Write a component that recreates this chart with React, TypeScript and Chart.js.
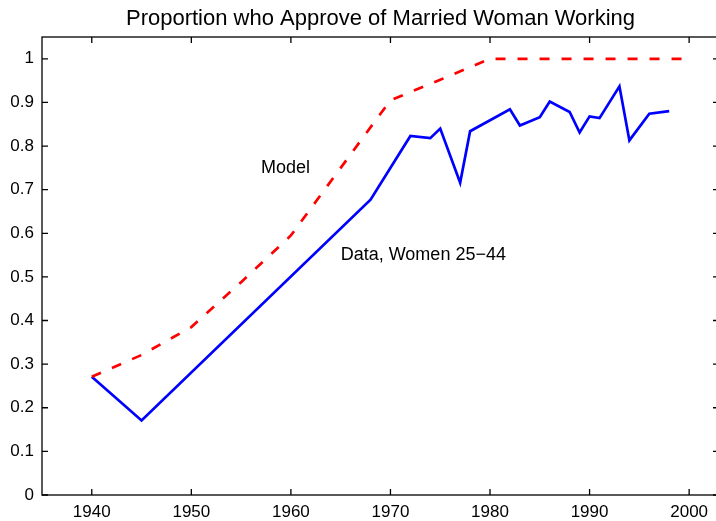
import React, { useEffect, useRef } from 'react';
import { Chart, registerables } from 'chart.js';

Chart.register(...registerables);

const TITLE = 'Proportion who Approve of Married Woman Working';
const FONT = '"Liberation Sans", Arial, Helvetica, sans-serif';

const modelYears = [1940, 1945, 1950, 1955, 1960, 1965, 1970, 1975, 1980, 1985, 1990, 1995, 2000];
const modelValues = [0.271, 0.321, 0.385, 0.488, 0.595, 0.75, 0.905, 0.952, 1, 1, 1, 1, 1];

const dataYears = [1940, 1945, 1968, 1972, 1974, 1975, 1977, 1978, 1982, 1983, 1985, 1986, 1988, 1989, 1990, 1991, 1993, 1994, 1996, 1998];
const dataValues = [0.271, 0.171, 0.677, 0.823, 0.818, 0.84, 0.716, 0.834, 0.884, 0.847, 0.866, 0.902, 0.878, 0.831, 0.868, 0.864, 0.937, 0.813, 0.874, 0.88];

const xTicks = [1940, 1950, 1960, 1970, 1980, 1990, 2000];
const yTicks = [0, 0.1, 0.2, 0.3, 0.4, 0.5, 0.6, 0.7, 0.8, 0.9, 1];

const annotationTexts = ['Model', 'Data, Women 25\u221244'];
const annotationX = [1957, 1965];
const annotationY = [0.75, 0.55];

const framePlugin = {
  id: 'frame',
  afterDraw(chart: any) {
    const { ctx, chartArea: a, scales } = chart;
    const xs = scales.x;
    const ys = scales.y;
    const tl = 6;
    ctx.save();
    ctx.strokeStyle = '#000';
    ctx.lineWidth = 1.3;
    ctx.strokeRect(a.left, a.top, a.right - a.left, a.bottom - a.top);
    ctx.beginPath();
    for (const t of xTicks) {
      const px = xs.getPixelForValue(t);
      ctx.moveTo(px, a.bottom);
      ctx.lineTo(px, a.bottom - tl);
      ctx.moveTo(px, a.top);
      ctx.lineTo(px, a.top + tl);
    }
    for (const t of yTicks) {
      const py = ys.getPixelForValue(t);
      ctx.moveTo(a.left, py);
      ctx.lineTo(a.left + tl, py);
      ctx.moveTo(a.right, py);
      ctx.lineTo(a.right - tl, py);
    }
    ctx.stroke();

    ctx.fillStyle = '#000';
    ctx.font = '18px ' + FONT;
    ctx.textAlign = 'left';
    ctx.textBaseline = 'middle';
    annotationTexts.forEach((txt, i) => {
      ctx.fillText(txt, xs.getPixelForValue(annotationX[i]), ys.getPixelForValue(annotationY[i]));
    });

    ctx.font = '22px ' + FONT;
    ctx.textAlign = 'center';
    ctx.textBaseline = 'alphabetic';
    ctx.fillText(TITLE, (a.left + a.right) / 2, 24.5);
    ctx.restore();
  },
};

export default function App() {
  const canvasRef = useRef<HTMLCanvasElement | null>(null);

  useEffect(() => {
    const canvas = canvasRef.current;
    if (!canvas) return;
    const chart = new Chart(canvas, {
      type: 'line',
      data: {
        datasets: [
          {
            label: 'Model',
            data: modelYears.map((y, i) => ({ x: y, y: modelValues[i] })),
            borderColor: '#ff0000',
            borderWidth: 2.7,
            borderDash: [10, 12],
            pointRadius: 0,
            tension: 0,
            fill: false,
          },
          {
            label: 'Data, Women 25-44',
            data: dataYears.map((y, i) => ({ x: y, y: dataValues[i] })),
            borderColor: '#0000ff',
            borderWidth: 2.7,
            pointRadius: 0,
            tension: 0,
            fill: false,
          },
        ],
      },
      options: {
        responsive: false,
        animation: false,
        layout: { padding: { top: 37, left: 0, right: 1, bottom: 0 } },
        plugins: {
          legend: { display: false },
          tooltip: { enabled: false },
          title: { display: false },
        },
        scales: {
          x: {
            type: 'linear',
            min: 1935,
            max: 2003,
            grid: { display: false, drawTicks: false },
            border: { display: false },
            afterBuildTicks: (s: any) => {
              s.ticks = xTicks.map((v) => ({ value: v }));
            },
            afterFit: (s: any) => {
              s.height = 26;
            },
            ticks: {
              padding: 7,
              color: '#000',
              font: { size: 17, family: FONT },
              maxRotation: 0,
              autoSkip: false,
              callback: (v: any) => String(v),
            },
          },
          y: {
            type: 'linear',
            min: 0,
            max: 1.05,
            grid: { display: false, drawTicks: false },
            border: { display: false },
            afterBuildTicks: (s: any) => {
              s.ticks = yTicks.map((v) => ({ value: v }));
            },
            afterFit: (s: any) => {
              s.width = 42;
            },
            ticks: {
              padding: 8,
              color: '#000',
              font: { size: 17, family: FONT },
              autoSkip: false,
              callback: (v: any) => String(Math.round(Number(v) * 10) / 10),
            },
          },
        },
      },
      plugins: [framePlugin],
    });
    return () => chart.destroy();
  }, []);

  return (
    <div
      style={{
        position: 'absolute',
        left: 0,
        top: 0,
        width: 716,
        height: 521,
        overflow: 'hidden',
        background: '#fff',
      }}
    >
      <canvas ref={canvasRef} width={720} height={521} style={{ display: 'block' }} />
    </div>
  );
}
